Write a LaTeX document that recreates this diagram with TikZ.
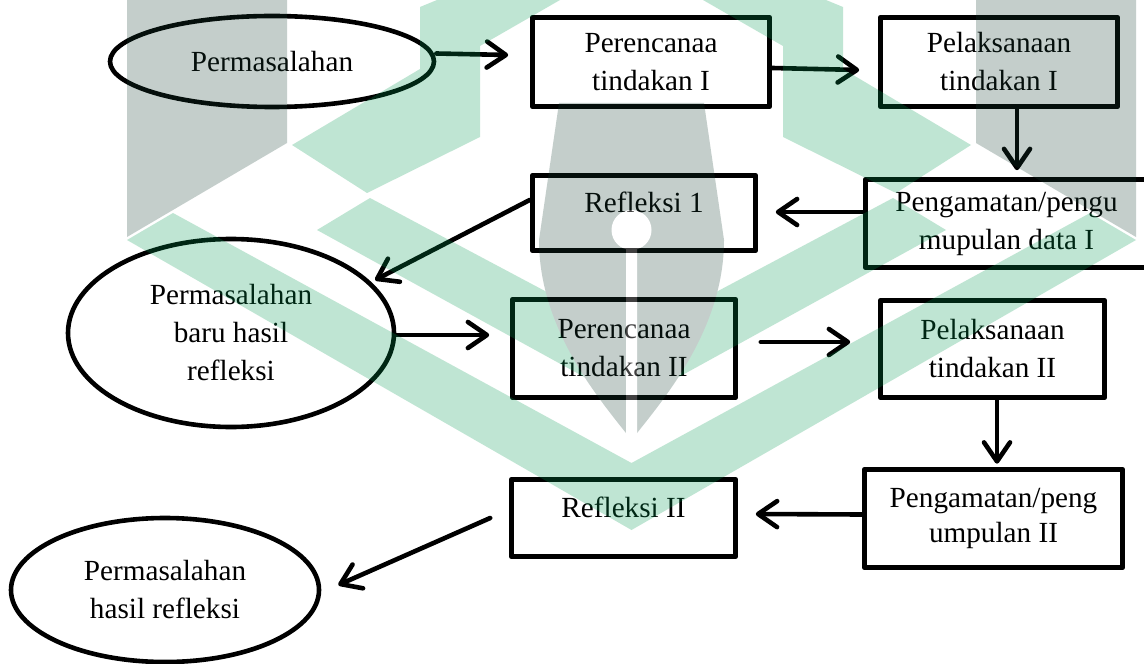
\documentclass[tikz,border=0pt]{standalone}
\usepackage{fontspec}
\setmainfont{Liberation Serif}
\usetikzlibrary{arrows.meta,shapes.geometric}
\definecolor{wmgreen}{RGB}{0,155,83}
\definecolor{wmgrey}{RGB}{23,63,51}
\begin{document}
\begin{tikzpicture}[x=0.5pt,y=-0.5pt,
  font=\fontsize{14.6}{19}\selectfont,
  box/.style={draw, fill=white, line width=2.8pt, line join=round, align=center, inner sep=0pt},
  oval/.style={ellipse, draw, fill=white, line width=2.3pt, align=center, inner sep=0pt},
  lbl/.style={inner sep=0pt, align=center},
  arr/.style={line width=2.3pt, line cap=round, -{Straight Barb[length=9.5pt,width=13pt,round]}}]
\useasboundingbox (0,0) rectangle (1144,663);
\fill[white] (0,0) rectangle (1144,663);

% nodes
\node[oval, minimum width=162pt, minimum height=45.5pt] (E1) at (272,61.5) {Permasalahan};
\node[box, minimum width=118.5pt, minimum height=44.5pt] (B1) at (651,62) {Perencanaa\\tindakan I};
\node[box, minimum width=118.5pt, minimum height=44.5pt] (B2) at (999,62) {Pelaksanaan\\tindakan I};
\node[box, minimum width=141pt, minimum height=44pt] (B3) at (1006.5,223.5) {Pengamatan/pengu\\mupulan data I};
\node[box, minimum width=111.5pt, minimum height=37.5pt] (B4) at (644,213) {};
\node[lbl] (B4t) at (644,202) {Refleksi 1};
\node[oval, minimum width=163pt, minimum height=94pt] (E2) at (231,333) {Permasalahan\\baru hasil\\refleksi};
\node[box, minimum width=111.5pt, minimum height=49pt] (B5) at (624,348.5) {Perencanaa\\tindakan II};
\node[box, minimum width=112pt, minimum height=48.5pt] (B6) at (992.5,349) {Pelaksanaan\\tindakan II};
\node[box, minimum width=129pt, minimum height=49pt, font=\fontsize{14.6}{17.5}\selectfont] (B7) at (993.5,518.5) {Pengamatan/peng\\umpulan II};
\node[box, minimum width=112pt, minimum height=38.5pt] (B8) at (623.5,518) {};
\node[lbl] (B8t) at (623.5,507) {Refleksi II};
\node[oval, minimum width=154pt, minimum height=72pt] (E3) at (165,590) {Permasalahan\\hasil refleksi};

% connectors
\draw[arr] ([shift={(0,-8)}]E1.east) -- ([shift={(-21.5,-7)}]B1.west);
\draw[arr] ([shift={(0,6)}]B1.east) -- ([shift={(-18.5,8)}]B2.west);
\draw[arr] ([shift={(18,0)}]B2.south) -- ([shift={(10.5,-6.5)}]B3.north);
\draw[arr] ([shift={(0,-11.5)}]B3.west) -- ([shift={(17.5,-1)}]B4.east);
\draw[arr] ([shift={(0,-13)}]B4.west) -- ([shift={(144,-53)}]E2.center);
\draw[arr] ([shift={(0,2)}]E2.east) -- ([shift={(-20.5,-13.5)}]B5.west);
\draw[arr] ([shift={(22.5,-6.5)}]B5.east) -- ([shift={(-27.5,-7)}]B6.west);
\draw[arr] ([shift={(4.5,0)}]B6.south) -- ([shift={(3.5,-3)}]B7.north);
\draw[arr] ([shift={(0,-4)}]B7.west) -- ([shift={(17.5,-4)}]B8.east);
\draw[arr] ([shift={(-18.5,0)}]B8.west) -- ([shift={(17,-5)}]E3.east);

% watermark (logo) overlaid
\begin{scope}[transparency group, opacity=0.25]
  \fill[wmgreen] (437,0) -- (560,0) -- (480,46) -- (480,137) -- (367,193) -- (292,145) -- (420,69) -- (420,7) -- cycle;
  \fill[wmgreen] (826,0) -- (703,0) -- (783,46) -- (783,137) -- (896,193) -- (971,145) -- (843,69) -- (843,7) -- cycle;
  \fill[wmgreen] (317,230) -- (631.5,403) -- (946,230) -- (893,198) -- (631.5,337) -- (370,198) -- cycle;
  \fill[wmgreen] (127,240) -- (631.5,530) -- (1136,240) -- (1090,213) -- (631.5,463) -- (173,213) -- cycle;
  \fill[wmgrey] (127,0) -- (287,0) -- (287,143) -- (127,237) -- cycle;
  \fill[wmgrey] (976,0) -- (1136,0) -- (1136,237) -- (976,143) -- cycle;
  \fill[wmgrey] (559,103) -- (704,103) -- (724,240)
     .. controls (724,330) and (663,400) .. (631.5,440)
     .. controls (600,400) and (539,330) .. (539,240) -- cycle;
  \fill[white] (631.5,230) circle[radius=20];
  \fill[white] (626,245) rectangle (637,445);
\end{scope}
\end{tikzpicture}
\end{document}
